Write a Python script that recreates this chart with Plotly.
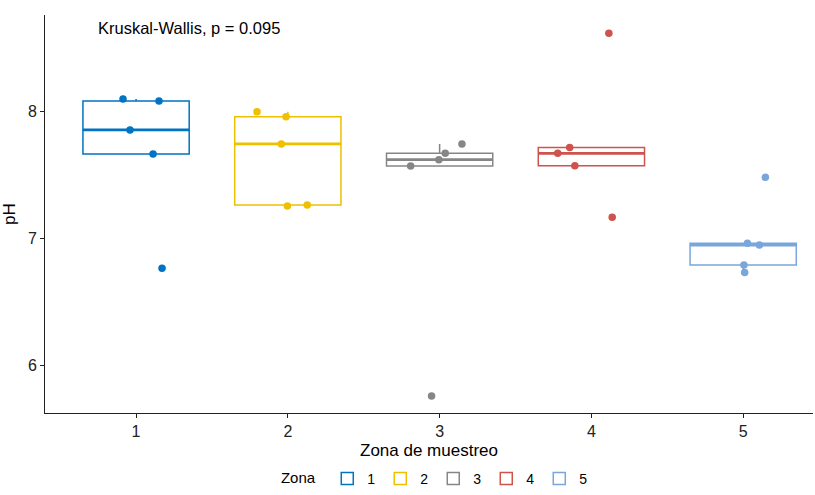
import numpy as np
import plotly.graph_objects as go

# pH per sampling zone
zones = [1, 2, 3, 4, 5]
ph_zona1 = [8.100, 8.084, 7.856, 7.667, 6.767]
ph_zona2 = [8.000, 7.961, 7.746, 7.257, 7.265]
ph_zona3 = [7.746, 7.672, 7.622, 7.572, 5.761]
ph_zona4 = [8.617, 7.717, 7.672, 7.575, 7.169]
ph_zona5 = [7.483, 6.964, 6.950, 6.793, 6.734]
ph_values = [ph_zona1, ph_zona2, ph_zona3, ph_zona4, ph_zona5]

# horizontal jitter of the individual samples
jitter_zona = [
    [-0.086, 0.151, -0.040, 0.112, 0.171],
    [-0.203, -0.012, -0.043, -0.003, 0.128],
    [0.147, 0.037, -0.005, -0.191, -0.053],
    [0.115, -0.143, -0.222, -0.109, 0.137],
    [0.146, 0.028, 0.107, 0.005, 0.010],
]

colors = ["#0073C2", "#EFC000", "#868686", "#CD534C", "#7AA6DC"]
annot_text = "Kruskal-Wallis, p = 0.095"

BOX_W = 0.7
FONT = "Liberation Sans"

fig = go.Figure()

for z, vals, jit, col in zip(zones, ph_values, jitter_zona, colors):
    v = np.array(vals)
    q1, med, q3 = np.percentile(v, [25, 50, 75])
    iqr = q3 - q1
    lo = v[v >= q1 - 1.5 * iqr].min()
    hi = v[v <= q3 + 1.5 * iqr].max()
    fig.add_trace(go.Box(
        x=[z], q1=[q1], median=[med], q3=[q3],
        lowerfence=[lo], upperfence=[hi],
        width=BOX_W, whiskerwidth=0, boxpoints=False,
        fillcolor="white", line=dict(color=col, width=1.5),
        name=str(z), legendgroup=str(z), showlegend=True,
        hoverinfo="skip",
    ))
    # thicker median line
    fig.add_trace(go.Scatter(
        x=[z - BOX_W / 2, z + BOX_W / 2], y=[med, med], mode="lines",
        line=dict(color=col, width=2.8), showlegend=False,
        legendgroup=str(z), hoverinfo="skip",
    ))
    fig.add_trace(go.Scatter(
        x=[z + j for j in jit], y=vals, mode="markers",
        marker=dict(color=col, size=7.5), showlegend=False,
        legendgroup=str(z),
    ))

fig.add_annotation(
    x=0.735, y=8.66, xref="x", yref="y", text=annot_text, showarrow=False,
    xanchor="left", yanchor="middle",
    font=dict(family=FONT, size=16.5, color="black"),
)

axis_common = dict(
    showgrid=False, zeroline=False, showline=True, linecolor="#222222",
    linewidth=1, ticks="outside", ticklen=4, tickwidth=1, tickcolor="#222222",
    tickfont=dict(family=FONT, size=16, color="#222222"),
    title_font=dict(family=FONT, size=17, color="black"),
)

fig.update_layout(
    width=815, height=495,
    margin=dict(l=45, r=2, t=15, b=82),
    plot_bgcolor="white", paper_bgcolor="white",
    xaxis=dict(range=[0.4, 5.46], tickvals=zones, ticktext=[str(z) for z in zones],
               title=dict(text="Zona de muestreo", standoff=4), **axis_common),
    yaxis=dict(range=[5.628, 8.761], tickvals=[6, 7, 8],
               title=dict(text="pH", standoff=8), **axis_common),
    legend=dict(
        orientation="h", x=0.509, xanchor="center",
        yref="container", y=-0.01, yanchor="bottom",
        title=dict(text="Zona ", side="left", font=dict(family=FONT, size=15)),
        font=dict(family=FONT, size=14, color="black"),
        tracegroupgap=0,
    ),
    showlegend=True,
)

fig.write_html("out.html")
